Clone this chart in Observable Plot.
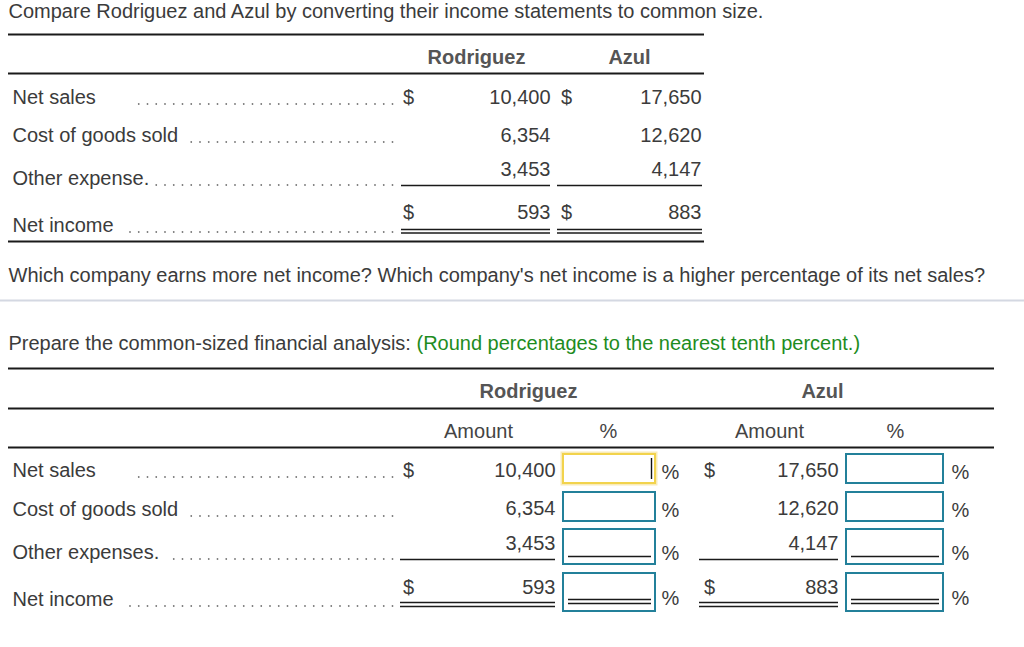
<!DOCTYPE html>
<html>
<head>
<meta charset="utf-8">
<script src="https://cdn.jsdelivr.net/npm/d3@7"></script>
<script src="https://cdn.jsdelivr.net/npm/@observablehq/plot@0.6"></script>
<style>
  html, body { margin: 0; padding: 0; background: #fff; }
</style>
</head>
<body>
<div id="chart"></div>
<script>
// ---------- DATA ----------
const titleText = "Compare Rodriguez and Azul by converting their income statements to common size.";
const questionText = "Which company earns more net income? Which company's net income is a higher percentage of its net sales?";
const promptText = "Prepare the common-sized financial analysis:";
const hintText = "(Round percentages to the nearest tenth percent.)";
const companies = ["Rodriguez", "Azul"];
const subHeaders = ["Amount", "%"];
const itemsTop = ["Net sales", "Cost of goods sold", "Other expense.", "Net income"];
const itemsBottom = ["Net sales", "Cost of goods sold", "Other expenses.", "Net income"];
const rodriguez = [10400, 6354, 3453, 593];
const azul = [17650, 12620, 4147, 883];

// ---------- LAYOUT (positions in page pixels) ----------
const W = 1024, H = 647;
const FONT = 20;
const INK = "#3b3b3b";
const fmt = d3.format(",");
const L = {
  textX: 8, labelX: 12, leaderEnd: 392, leaderStep: 8.75,
  t1: {
    left: 8, right: 704, ruleTop: 34, ruleHead: 73, ruleBottom: 241,
    headY: 57, headX: [476, 629],
    labelY: [97, 135, 178, 225], valueY: [97, 135, 169, 212],
    leaderStart: [132, 189, 152, 122],
    dollarX: [408, 566], valueRight: [550, 701],
    sumSpan: [[401, 550], [557, 702]], underlineY: 185, doubleY: [229, 232.5]
  },
  titleY: 11, questionY: 275, sepY: 300, promptY: 343,
  t2: {
    left: 8, right: 994, ruleTop: 368, ruleHead: 408, ruleSub: 447,
    headY: 391, headX: [528, 822],
    subY: 431, subX: [[478, 608], [769, 895]],
    labelY: [470, 509, 552, 599], valueY: [470, 508, 543, 587],
    leaderStart: [132, 189, 166, 122],
    dollarX: [408, 709], valueRight: [555, 838],
    sumSpan: [[400, 555], [699, 838]], underlineY: 559, doubleY: [602, 606],
    box: [[563, 655], [846, 943]],
    boxY: [[454, 483], [492, 521], [529, 564], [573, 611]],
    boxLine: [[568, 651], [851, 939]], boxUnderY: 556, boxDoubleY: [599, 603],
    pctX: [670, 960], pctY: [472, 510, 553, 598]
  }
};

// ---------- DERIVED TABLES ----------
const series = [rodriguez, azul];

function leaders(starts, ys) {
  const out = [];
  starts.forEach((s, i) => {
    for (let x = L.leaderEnd; x >= s; x -= L.leaderStep) out.push({x, y: ys[i] + 6.5});
  });
  return out;
}

function tableRows(items, T) {
  const labels = items.map((t, i) => ({text: t, x: L.labelX, y: T.labelY[i]}));
  const values = [];
  const dollars = [];
  series.forEach((vals, c) => {
    vals.forEach((v, i) => {
      values.push({text: fmt(v), x: T.valueRight[c], y: T.valueY[i]});
      if (i === 0 || i === vals.length - 1) dollars.push({text: "$", x: T.dollarX[c], y: T.valueY[i]});
    });
  });
  const singles = T.sumSpan.map(([x1, x2]) => ({x1, x2, y: T.underlineY}));
  const doubles = T.sumSpan.flatMap(([x1, x2]) => T.doubleY.map(y => ({x1, x2, y})));
  return {labels, values, dollars, singles, doubles};
}

const tbl1 = tableRows(itemsTop, L.t1);
const tbl2 = tableRows(itemsBottom, L.t2);

// canvas measurement for inline green hint
const ctx = document.createElement("canvas").getContext("2d");
ctx.font = `${FONT}px "Liberation Sans", Arial, sans-serif`;
const promptW = ctx.measureText(promptText + " ").width;

// input boxes (one per company per line item)
const boxes = [];
companies.forEach((c, ci) => {
  itemsBottom.forEach((it, i) => {
    boxes.push({company: c, item: it, x1: L.t2.box[ci][0], x2: L.t2.box[ci][1],
      y1: L.t2.boxY[i][0], y2: L.t2.boxY[i][1], focused: ci === 0 && i === 0});
  });
});
const boxSingles = L.t2.boxLine.map(([x1, x2]) => ({x1, x2, y: L.t2.boxUnderY}));
const boxDoubles = L.t2.boxLine.flatMap(([x1, x2]) => L.t2.boxDoubleY.map(y => ({x1, x2, y})));
const pcts = [];
companies.forEach((c, ci) => itemsBottom.forEach((it, i) => pcts.push({x: L.t2.pctX[ci], y: L.t2.pctY[i]})));

const hRules = [
  {x1: L.t1.left, x2: L.t1.right, y: L.t1.ruleTop},
  {x1: L.t1.left, x2: L.t1.right, y: L.t1.ruleHead},
  {x1: L.t1.left, x2: L.t1.right, y: L.t1.ruleBottom},
  {x1: L.t2.left, x2: L.t2.right, y: L.t2.ruleTop},
  {x1: L.t2.left, x2: L.t2.right, y: L.t2.ruleHead},
  {x1: L.t2.left, x2: L.t2.right, y: L.t2.ruleSub}
];

const heads = [
  ...companies.map((c, i) => ({text: c, x: L.t1.headX[i], y: L.t1.headY})),
  ...companies.map((c, i) => ({text: c, x: L.t2.headX[i], y: L.t2.headY}))
];
const subs = companies.flatMap((c, ci) => subHeaders.map((s, si) => ({text: s, x: L.t2.subX[ci][si], y: L.t2.subY})));

const txt = (data, o = {}) => Plot.text(data, {x: "x", y: "y", text: "text", fill: INK, fontSize: FONT, lineAnchor: "middle", ...o});
const hr = (data, o = {}) => Plot.ruleY(data, {y: "y", x1: "x1", x2: "x2", stroke: "#1a1a1a", ...o});

const chart = Plot.plot({
  width: W, height: H, margin: 0,
  x: {type: "linear", domain: [0, W], range: [0, W], axis: null},
  y: {type: "linear", domain: [0, H], range: [0, H], axis: null},
  style: {fontFamily: '"Liberation Sans", Arial, sans-serif', background: "#fff"},
  marks: [
    txt([{text: titleText, x: L.textX, y: L.titleY}], {textAnchor: "start"}),
    txt([{text: questionText, x: L.textX, y: L.questionY}], {textAnchor: "start"}),
    hr([{x1: 0, x2: W, y: L.sepY}], {stroke: "#d4d8e2", strokeWidth: 2}),
    txt([{text: promptText, x: L.textX, y: L.promptY}], {textAnchor: "start"}),
    txt([{text: hintText, x: L.textX + promptW, y: L.promptY}], {textAnchor: "start", fill: "#1e8c1e"}),
    hr(hRules, {strokeWidth: 2}),
    txt(heads, {fontWeight: "bold", fill: "#555"}),
    txt(subs, {fill: "#444"}),
    txt(tbl1.labels, {textAnchor: "start"}),
    Plot.dot(leaders(L.t1.leaderStart, L.t1.labelY), {x: "x", y: "y", r: 0.9, fill: "#777", stroke: null}),
    txt(tbl1.dollars),
    txt(tbl1.values, {textAnchor: "end"}),
    hr(tbl1.singles, {strokeWidth: 1.6}),
    hr(tbl1.doubles, {strokeWidth: 1.3}),
    txt(tbl2.labels, {textAnchor: "start"}),
    Plot.dot(leaders(L.t2.leaderStart, L.t2.labelY), {x: "x", y: "y", r: 0.9, fill: "#777", stroke: null}),
    txt(tbl2.dollars),
    txt(tbl2.values, {textAnchor: "end"}),
    hr(tbl2.singles, {strokeWidth: 1.6}),
    hr(tbl2.doubles, {strokeWidth: 1.3}),
    Plot.rect(boxes.filter(d => d.focused), {x1: "x1", x2: "x2", y1: "y1", y2: "y2", fill: "none", stroke: "#f6e39a", strokeWidth: 5, strokeOpacity: 0.7}),
    Plot.rect(boxes, {x1: "x1", x2: "x2", y1: "y1", y2: "y2", fill: "#fff",
      stroke: d => d.focused ? "#f2d34c" : "#23809a", strokeWidth: 2}),
    Plot.ruleX(boxes.filter(d => d.focused), {x: d => d.x2 - 4, y1: d => d.y1 + 4, y2: d => d.y2 - 4, stroke: "#111", strokeWidth: 1.4}),
    hr(boxSingles, {strokeWidth: 1.6}),
    hr(boxDoubles, {strokeWidth: 1.3}),
    txt(pcts.map(d => ({...d, text: "%"})))
  ]
});
document.getElementById("chart").appendChild(chart);
</script>
</body>
</html>
